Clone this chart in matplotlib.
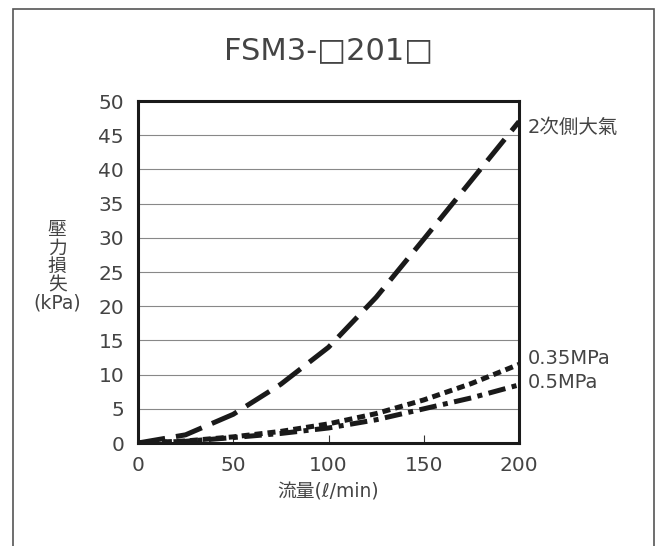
import matplotlib
matplotlib.use("Agg")
import matplotlib.pyplot as plt
from matplotlib.patches import Rectangle

plt.rcParams['font.family'] = ['DejaVu Sans', 'Noto Sans CJK JP']

flow = [0, 25, 50, 75, 100, 125, 150, 175, 200]
p_atm = [0, 1.2, 4.2, 8.6, 14.0, 21.3, 29.8, 38.4, 47.0]
p_035 = [0, 0.3, 0.9, 1.7, 2.8, 4.3, 6.3, 8.7, 11.5]
p_05 = [0, 0.25, 0.8, 1.4, 2.2, 3.4, 5.0, 6.6, 8.5]

series_labels = ["2次側大氣", "0.35MPa", "0.5MPa"]
title = "FSM3-□201□"
xlabel = "流量(ℓ/min)"
ylabel = "壓\n力\n損\n失\n(kPa)"
xticks = [0, 50, 100, 150, 200]
yticks = list(range(0, 55, 5))

fig = plt.figure(figsize=(6.57, 5.46), dpi=100)
fig.patches.append(Rectangle((0.0198, -0.2), 0.9756, 1.1835, transform=fig.transFigure,
                             fill=False, edgecolor='#555555', linewidth=1.2))

ax = fig.add_axes([0.210, 0.1886, 0.580, 0.6264])
txt = '#444444'
lw = 3.6
ax.plot(flow, p_atm, color='#1a1a1a', lw=lw, linestyle=(0, (5.5, 2.2)), dash_capstyle='butt')
ax.plot(flow, p_035, color='#1a1a1a', lw=lw, linestyle=(0, (1.6, 1.0)), dash_capstyle='butt')
ax.plot(flow, p_05, color='#1a1a1a', lw=lw, linestyle=(0, (3.5, 1.3, 1.0, 1.3)), dash_capstyle='butt')

ax.set_xlim(0, 200)
ax.set_ylim(0, 50)
ax.set_xticks(xticks)
ax.set_yticks(yticks)
ax.set_yticklabels([str(v) for v in yticks], fontsize=14.5, color=txt)
ax.set_xticklabels([str(v) for v in xticks], fontsize=14.5, color=txt)
ax.tick_params(axis='y', length=0, pad=10)
ax.tick_params(axis='x', direction='in', length=6, width=0.8, color='#333333', pad=9)
ax.grid(axis='y', color='#888888', linewidth=0.8)
ax.set_axisbelow(True)
for s in ax.spines.values():
    s.set_linewidth(2.2)
    s.set_color('#1a1a1a')

fig.text(0.5, 0.908, title, ha='center', va='center', fontsize=22, color=txt)
fig.text(0.5, 0.099, xlabel, ha='center', va='center', fontsize=13.5, color=txt)
fig.text(0.087, 0.512, ylabel, ha='center', va='center', fontsize=13.5, color=txt, linespacing=0.95)

ax.annotate(series_labels[0], xy=(1.0, p_atm[-1] - 0.9), xycoords=('axes fraction', 'data'),
            xytext=(6, 0), textcoords='offset points', va='center', ha='left', fontsize=14, color=txt)
ax.annotate(series_labels[1], xy=(1.0, 12.3), xycoords=('axes fraction', 'data'),
            xytext=(6, 0), textcoords='offset points', va='center', ha='left', fontsize=14, color=txt)
ax.annotate(series_labels[2], xy=(1.0, 8.9), xycoords=('axes fraction', 'data'),
            xytext=(6, 0), textcoords='offset points', va='center', ha='left', fontsize=14, color=txt)

fig.savefig("out.png", dpi=100)
